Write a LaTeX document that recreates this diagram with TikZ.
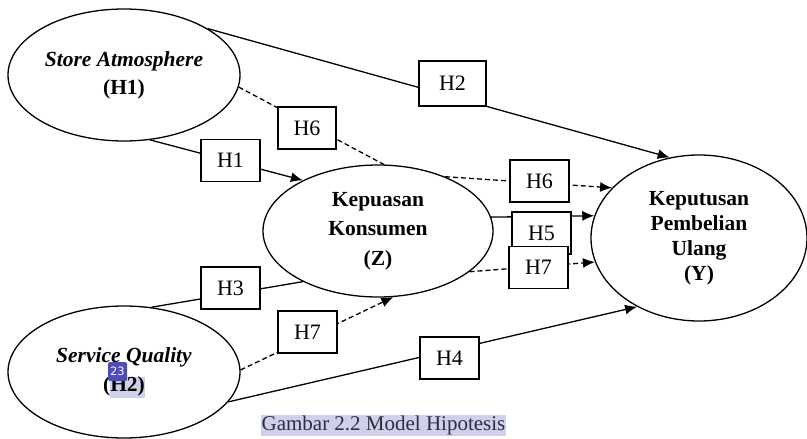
\documentclass[tikz,border=0pt]{standalone}
\usepackage{fontspec}
\setmainfont{Liberation Serif}
\newfontfamily\badgefont{DejaVu Sans}
\usetikzlibrary{shapes.geometric,arrows.meta}
\definecolor{hilite}{RGB}{208,208,236}
\definecolor{badgeblue}{RGB}{76,76,190}
\definecolor{captext}{RGB}{45,45,60}
\tikzset{
  ell/.style={ellipse, draw, line width=1.3pt, inner sep=0pt, align=center},
  hbox/.style={draw, fill=white, line width=1.3pt, minimum width=59pt, minimum height=42pt, inner sep=0pt, font=\fontsize{22}{26}\selectfont},
  conn/.style={line width=1.3pt},
  dconn/.style={line width=1.3pt, dash pattern=on 5pt off 3pt},
  tip/.style={-{Latex[length=12pt,width=10pt]}}
}
\begin{document}
\begin{tikzpicture}[x=1pt,y=-1pt]
\useasboundingbox (0,0) rectangle (807,439);
% selection highlights
\fill[hilite] (110,377) rectangle (145,398);
% ellipses
\node[ell, minimum width=232pt, minimum height=132pt, font=\fontsize{21.5}{28}\selectfont] (sa) at (124,75)
  {\textbf{\textit{Store Atmosphere}}\\\textbf{(H1)}};
\node[ell, minimum width=232pt, minimum height=132pt, font=\fontsize{21.5}{29}\selectfont] (sq) at (124,372)
  {\textbf{\textit{Service Quality}}\\\textbf{(H2)}};
\node[ell, minimum width=230pt, minimum height=132pt, font=\fontsize{21.5}{29.5}\selectfont] (z) at (378,231)
  {\textbf{Kepuasan}\\\textbf{Konsumen}\\\textbf{(Z)}};
\node[ell, minimum width=216pt, minimum height=166pt, font=\fontsize{21.5}{25}\selectfont] (y) at (699,238)
  {\textbf{Keputusan}\\\textbf{Pembelian}\\\textbf{Ulang}\\\textbf{(Y)}};
% connectors
\draw[conn,tip] (sa.29.5) -- (y.110.4);
\draw[conn,tip] (sa.-68.5) -- (z.146.8);
\draw[dconn] (sa.-6.6) -- (z.85.7);
\draw[dconn,tip] (z.39.7) -- (y.150.3);
\draw[conn,tip] (z.7) -- (y.168.5);
\draw[dconn,tip] (z.-24.5) -- (y.193.8);
\draw[conn] (sq.67.6) -- (z.214.2);
\draw[dconn,tip] (sq.1) -- (z.-77.2);
\draw[conn,tip] (sq.-16) -- (y.228.5);
% hypothesis boxes
\node[hbox, minimum width=67pt, minimum height=45pt] (b2) at (452.5,83.5) {H2};
\node[hbox, minimum width=58pt] (b6a) at (307,128) {H6};
\node[hbox] (b1) at (230.5,160.5) {H1};
\node[hbox] (b6b) at (539.5,181) {H6};
\node[hbox] (b5) at (541.5,233) {H5};
\node[hbox] (b7b) at (538.5,267.5) {H7};
\node[hbox] (b3) at (230.5,288) {H3};
\node[hbox] (b7a) at (307.5,332) {H7};
\node[hbox] (b4) at (449.5,358) {H4};
% page badge
\node[fill=badgeblue, rounded corners=2pt, minimum width=19pt, minimum height=19pt, inner sep=0pt, text=white, font=\badgefont\fontsize{11.5}{13}\selectfont] (badge) at (117.5,371.5) {23};
% caption
\node[fill=hilite, inner sep=1pt, text=captext, font=\fontsize{21}{24}\selectfont, anchor=north] (cap) at (383.5,414.5) {Gambar 2.2 Model Hipotesis};
\end{tikzpicture}
\end{document}
